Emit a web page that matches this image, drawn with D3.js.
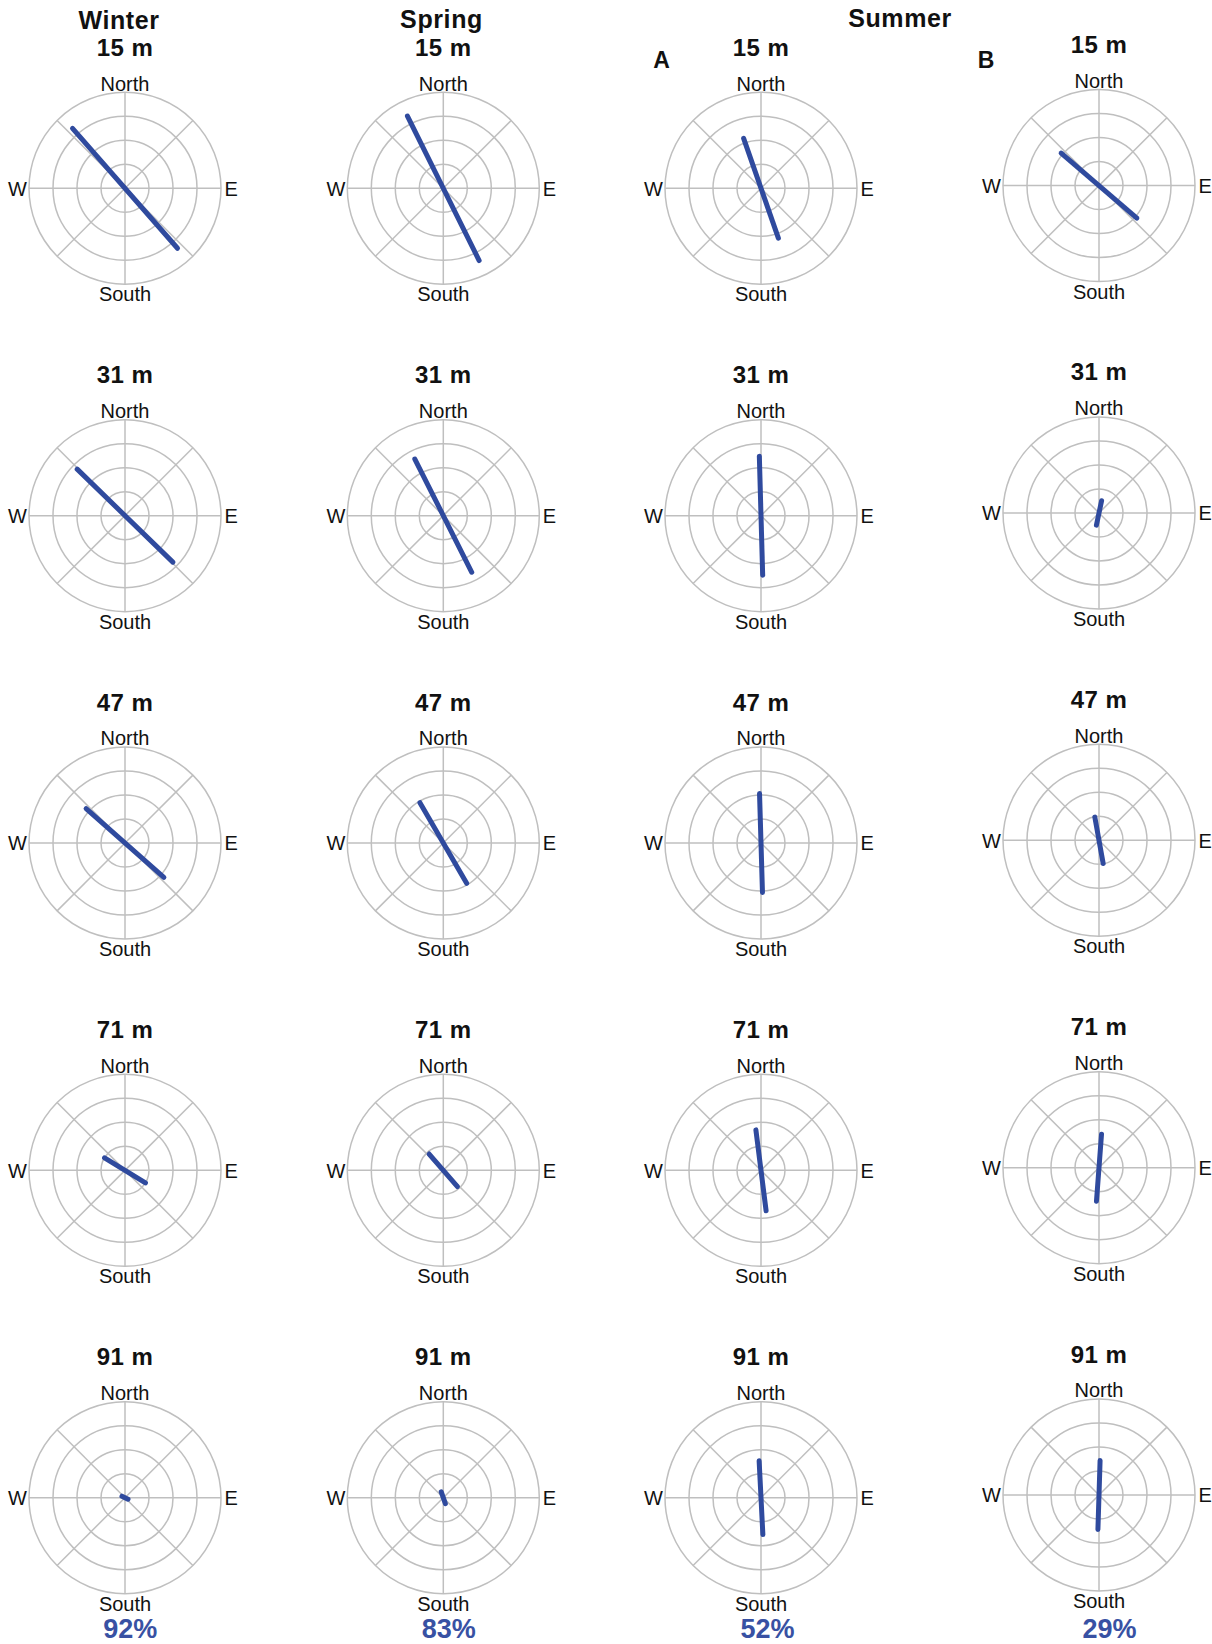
<!DOCTYPE html>
<html>
<head>
<meta charset="utf-8">
<script src="https://cdn.jsdelivr.net/npm/d3@7"></script>
<style>
  html, body { margin: 0; padding: 0; background: #fff; }
  svg text { font-family: "Liberation Sans", Arial, Helvetica, sans-serif; fill: #111; }
</style>
</head>
<body>
<svg id="chart" width="1212" height="1644"></svg>
<script>
// Principal current axis per depth: bearing (deg clockwise from North) and half-length (cm/s)
const depths = [15, 31, 47, 71, 91];
const panelColumns = ["Winter", "Spring", "Summer A", "Summer B"];

const winterBearing  = [138.8, 134.2, 131.4, 121.6, 116.0];
const winterAmp      = [16.6, 13.9, 10.8, 5.0, 0.7];

const springBearing  = [153.6, 153.3, 149.9, 139.1, 160.7];
const springAmp      = [16.8, 13.2, 9.7, 4.5, 1.3];

const summerABearing = [160.8, 178.4, 178.3, 172.8, 177.1];
const summerAAmp     = [11.0, 12.4, 10.3, 8.5, 7.7];

const summerBBearing = [130.7, 12.0, 169.8, 4.3, 1.8];
const summerBAmp     = [10.4, 2.6, 4.9, 7.0, 7.2];

const varianceExplained = [92, 83, 52, 29];   // percent, one per column
const ringTicks = [5, 10, 15, 20];
const spokeBearings = [0, 45, 90, 135, 180, 225, 270, 315];

const bearings = [winterBearing, springBearing, summerABearing, summerBBearing];
const amps = [winterAmp, springAmp, summerAAmp, summerBAmp];

// ---- layout ----
const colCenters = [125, 443.3, 761, 1099];
const colShiftY  = [0, 0, 0, -2.7];
const pctShiftX  = [5.3, 5.4, 6.5, 10.5];
const rowY = d3.scaleLinear().domain([0, depths.length - 1]).range([188.3, 1497.7]);
const r = d3.scaleLinear().domain([0, 20]).range([0, 96]);

const gridColor = "#bfbfbf";
const axisColor = "#2f4a9e";
const pctColor  = "#3851a3";

const svg = d3.select("#chart");
const toRad = d => d * Math.PI / 180;

const radial = d3.lineRadial()
  .angle(d => toRad(d.a))
  .radius(d => r(d.v));

panelColumns.forEach((col, ci) => {
  depths.forEach((depth, di) => {
    const cx = colCenters[ci];
    const cy = rowY(di) + colShiftY[ci];
    const g = svg.append("g").attr("transform", `translate(${cx},${cy})`);

    // rings
    g.selectAll("circle.ring").data(ringTicks).join("circle")
      .attr("class", "ring")
      .attr("r", d => r(d))
      .attr("fill", "none")
      .attr("stroke", gridColor)
      .attr("stroke-width", 1.5);

    // spokes
    g.selectAll("path.spoke").data(spokeBearings).join("path")
      .attr("class", "spoke")
      .attr("d", a => radial([{a, v: 0}, {a, v: 20}]))
      .attr("fill", "none")
      .attr("stroke", gridColor)
      .attr("stroke-width", 1.5);

    // principal axis through the centre
    const b = bearings[ci][di], v = amps[ci][di];
    g.append("path")
      .attr("d", radial([{a: b, v}, {a: b + 180, v}]))
      .attr("fill", "none")
      .attr("stroke", axisColor)
      .attr("stroke-width", 5)
      .attr("stroke-linecap", "round");

    // compass labels
    const R = r(20);
    g.append("text").attr("x", 0).attr("y", -R - 1.7)
      .attr("text-anchor", "middle").attr("font-size", 20).text("North");
    g.append("text").attr("x", 0).attr("y", R + 17)
      .attr("text-anchor", "middle").attr("font-size", 20).text("South");
    g.append("text").attr("x", -R - 2).attr("y", 7.2)
      .attr("text-anchor", "end").attr("font-size", 20).text("W");
    g.append("text").attr("x", R + 3.5).attr("y", 7.2)
      .attr("text-anchor", "start").attr("font-size", 20).text("E");

    // depth title
    g.append("text").attr("x", 0).attr("y", -132.5)
      .attr("text-anchor", "middle").attr("font-size", 24)
      .attr("font-weight", "bold").attr("letter-spacing", 0.5)
      .text(`${depth} m`);
  });

  // percentage of variance along the axis
  svg.append("text")
    .attr("x", colCenters[ci] + pctShiftX[ci])
    .attr("y", 1638)
    .attr("text-anchor", "middle")
    .attr("font-size", 27)
    .attr("font-weight", "bold")
    .style("fill", pctColor)
    .text(`${varianceExplained[ci]}%`);
});

// season headings
const headings = [
  {text: "Winter", x: 119, y: 29.3},
  {text: "Spring", x: 441.5, y: 27.5},
  {text: "Summer", x: 900, y: 27.3}
];
svg.selectAll("text.season").data(headings).join("text")
  .attr("class", "season")
  .attr("x", d => d.x).attr("y", d => d.y)
  .attr("text-anchor", "middle")
  .attr("font-size", 25).attr("font-weight", "bold").attr("letter-spacing", 0.6)
  .text(d => d.text);

// sub-panel letters for the two summer moorings
const subLabels = [{text: "A", x: 661.5, y: 68}, {text: "B", x: 986, y: 68}];
svg.selectAll("text.sub").data(subLabels).join("text")
  .attr("class", "sub")
  .attr("x", d => d.x).attr("y", d => d.y)
  .attr("text-anchor", "middle")
  .attr("font-size", 23).attr("font-weight", "bold")
  .text(d => d.text);
</script>
</body>
</html>
